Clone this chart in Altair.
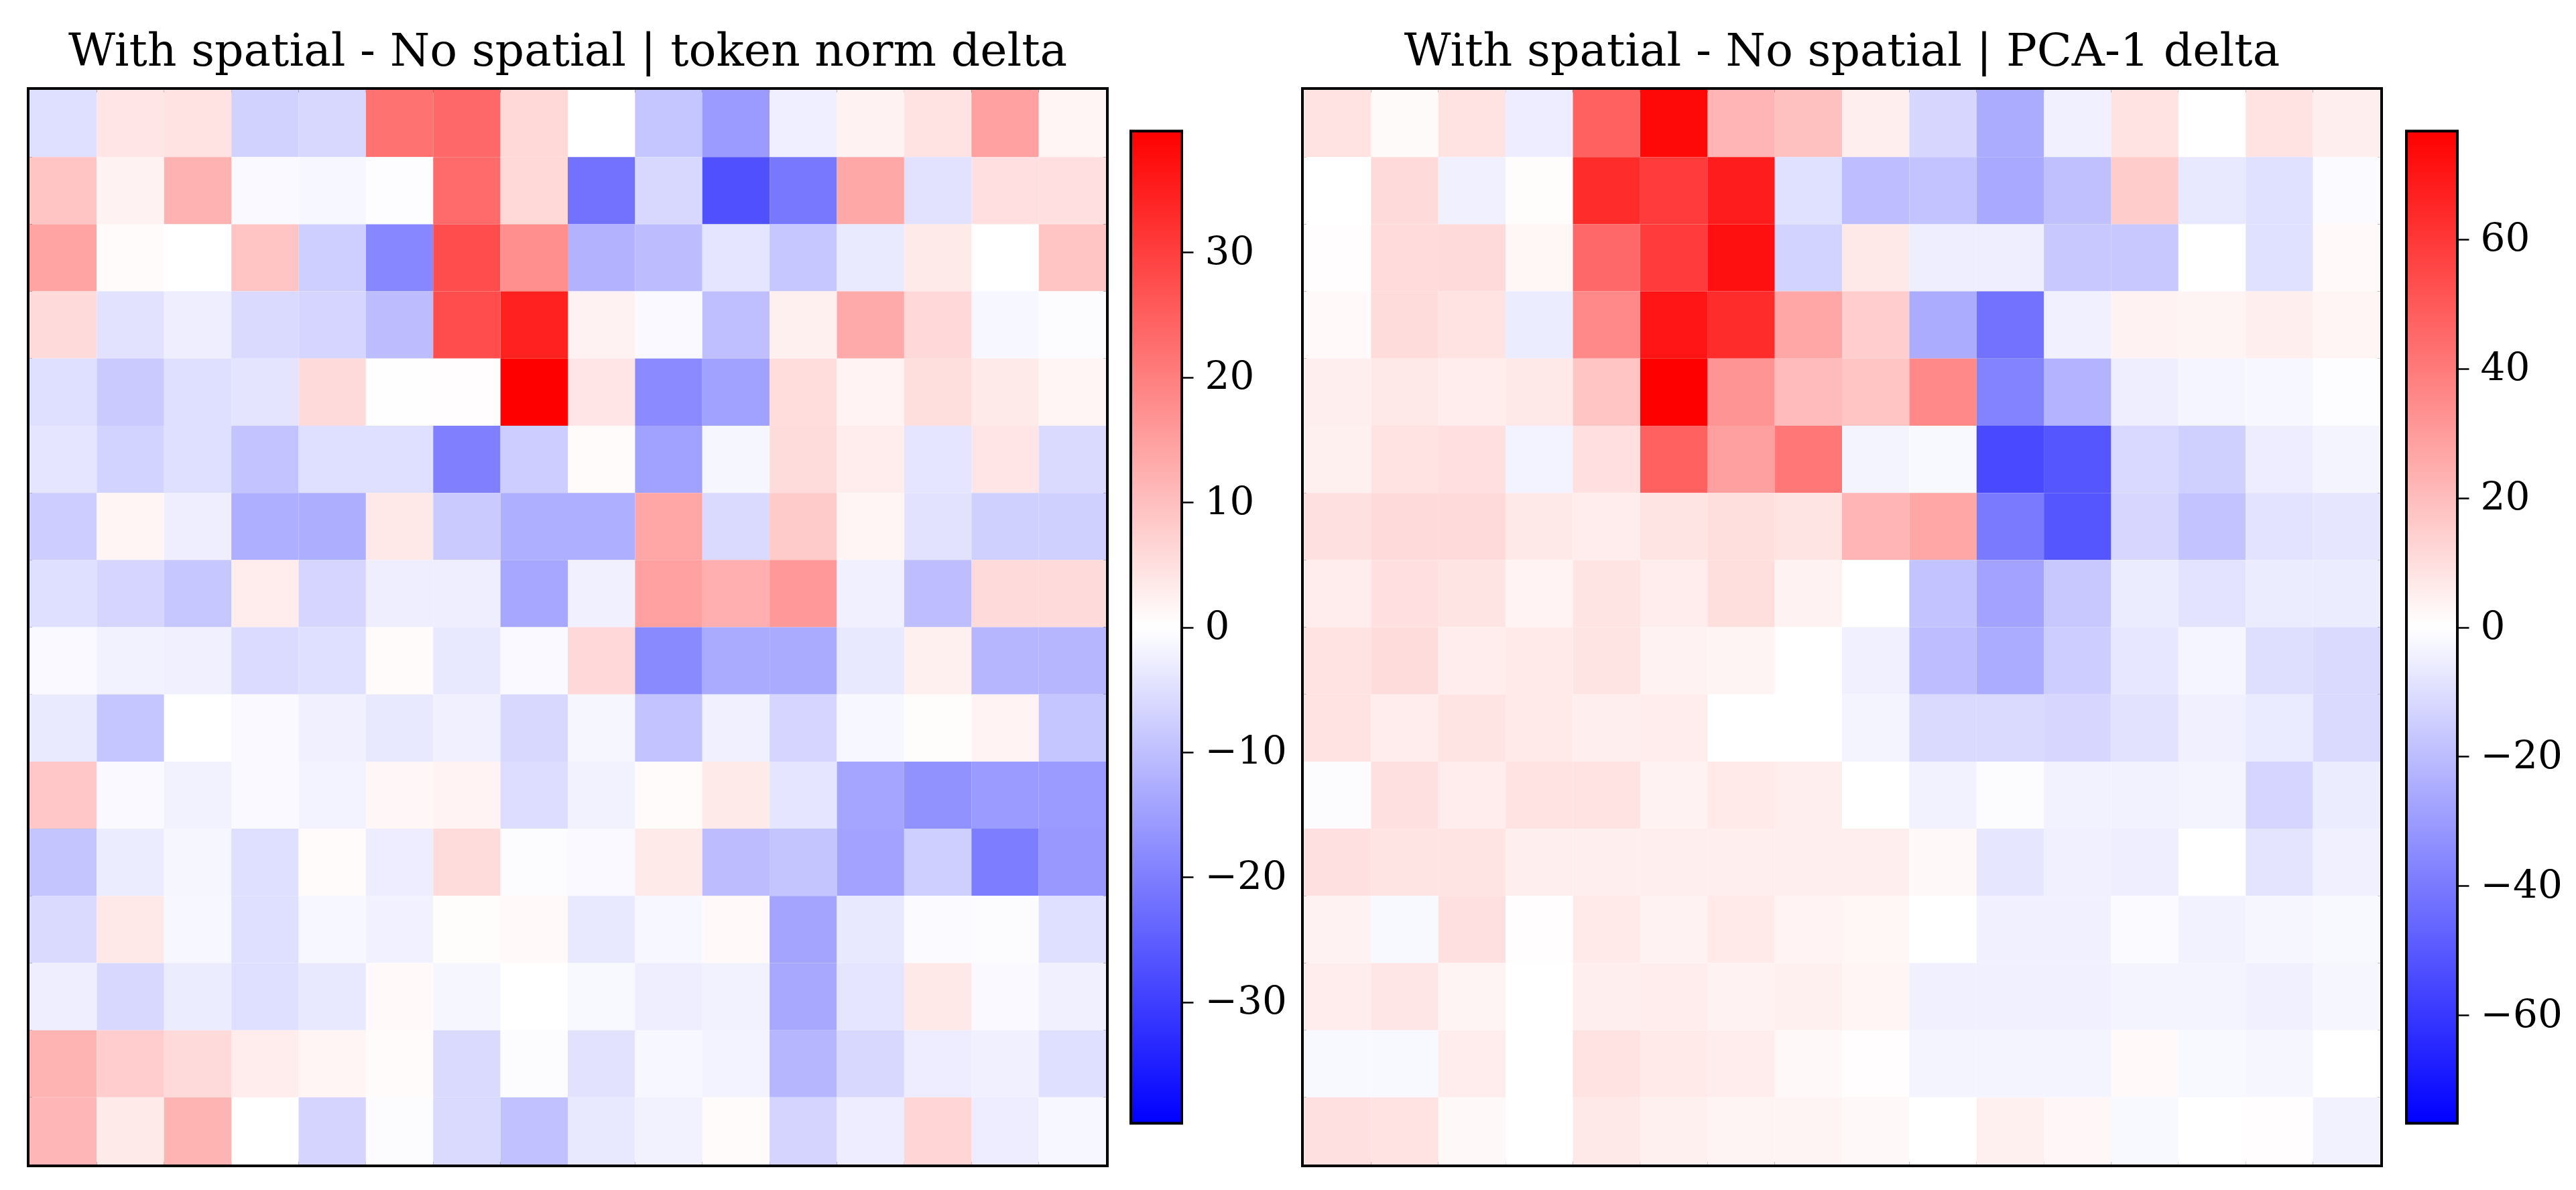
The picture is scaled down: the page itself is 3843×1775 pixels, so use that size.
import altair as alt
import pandas as pd

# ---------------- data (16 x 16 patch grids, row 0 = top) ----------------
ROWS = list(range(16))
COLS = list(range(16))

norm_delta = [
    [-5, 4, 4.5, -7, -6, 22, 23.5, 6, 0, -9, -15.5, -2.5, 2, 4.5, 14.7, 1.5],
    [9, 2, 12, -1, -1.2, -0.3, 23, 6, -22, -6, -27.3, -21, 13.5, -4.5, 5, 5],
    [14.3, 0.6, 0, 9, -7.5, -18.7, 27.8, 17.6, -12, -10.4, -4, -8.7, -3.2, 3.2, 0, 9],
    [5.8, -4.5, -2.6, -5.8, -6.5, -10.4, 27.8, 34.7, 2, -1, -10, 2.3, 13.3, 5.9, -1.2, -0.4],
    [-5, -8.2, -5, -4.2, 5.8, 0.2, 0.3, 39.7, 4, -18, -14.6, 5.3, 1.9, 5.2, 3.2, 1.5],
    [-4, -6.9, -5, -9.4, -5, -5, -19.8, -7.8, 0.7, -14.6, -1.4, 5.5, 2.9, -4, 4, -5.8],
    [-7.8, 1.5, -2.6, -12.5, -12.6, 3.6, -8.2, -12.5, -12.5, 13.9, -5.8, 8.3, 1.5, -4.5, -7.3, -7.3],
    [-5, -6.5, -8.7, 2.9, -6.5, -2.6, -2.6, -13.7, -2.3, 14.6, 12.5, 15.9, -2.3, -10.2, 5.8, 5.8],
    [-1, -2, -2.4, -5.6, -5, 0.6, -3.6, -1, 5.9, -18.2, -13.2, -13.2, -3.6, 2.3, -11.3, -11.3],
    [-3.3, -9, 0, -1, -2.4, -3.6, -2.4, -6, -1.4, -9.4, -2.4, -6.5, -1.2, 0.5, 1.9, -9],
    [8.7, -1, -2, -1, -1.8, 1.2, 1.8, -5.3, -2, 0.6, 3.2, -4, -14, -17, -15.5, -15.5],
    [-9.2, -3, -1.4, -5, 0.6, -2.8, 5.5, -0.4, -1, 3.2, -10.4, -9.2, -14.3, -7.5, -20.2, -16],
    [-5.8, 3.6, -1.2, -5, -1.3, -2.2, 0.5, 0.9, -3.6, -1.2, 1, -14.2, -3.6, -0.7, -0.4, -5],
    [-2.6, -6, -3, -5, -3.6, 0.9, -1.4, 0, -1.1, -2.6, -2, -13.5, -4, 3.6, -1, -2.4],
    [11.7, 7.8, 5.8, 2.9, 1.5, 0.6, -5.8, -0.4, -4.5, -1.2, -1.8, -11.3, -6, -2.8, -2.4, -5],
    [11.3, 3.2, 11.7, 0, -6.7, -0.4, -5.8, -9.6, -3.6, -2, 0.6, -6.7, -2.8, 6.6, -2.8, -1.2],
]

pca_delta = [
    [8.7, 1.5, 8.7, -5.4, 47.7, 74.3, 22.3, 19, 5.1, -12.3, -25, -4.5, 8.7, 0, 8.7, 5.1],
    [0, 11.1, -4.5, 1, 63.5, 59, 68.3, -9.3, -20, -18, -25.9, -19, 15.3, -7, -9.3, -1.5],
    [0.6, 10.8, 11, 2.7, 45.4, 59, 71.9, -13.2, 7, -5, -5, -16.5, -16.5, 0, -9.3, 1.8],
    [1.8, 10.4, 8.7, -5.7, 35.8, 70.5, 63.5, 26.8, 15, -25, -42.3, -4.5, 4, 3.3, 5, 3],
    [5.1, 7, 5.7, 7, 17.4, 76.7, 32.3, 20.5, 17.7, 35.8, -37.3, -22.9, -5.1, -3, -2.4, -0.6],
    [4.5, 8.7, 9.6, -3.6, 9.6, 47.7, 28.6, 40.8, -3.3, -2.1, -54.6, -50.8, -11.4, -14.1, -5.4, -3.3],
    [9.3, 11, 11, 7, 5.7, 8.1, 9.9, 8.1, 22.3, 26.8, -40, -50.8, -12.3, -18, -8.4, -7.5],
    [5.4, 9.6, 8.1, 3.6, 8.1, 5.4, 9.9, 3.9, 0, -18, -27.6, -16.5, -5.7, -8.4, -5.7, -5.7],
    [8.4, 10.5, 5.4, 6.6, 8.1, 3.9, 3.3, 0, -4.5, -20, -25.3, -15, -7.2, -3, -10, -11],
    [8.4, 5.7, 8, 6.6, 5, 5.4, 0, 0, -3.3, -11, -11, -12.3, -8.7, -4.5, -6, -11],
    [-1, 9.3, 5.4, 8.4, 8.4, 3.9, 6.6, 5, 0, -4, -1, -4, -4, -3.3, -12.6, -5.7],
    [9.3, 8.1, 8.1, 5, 5, 5, 5, 5, 5, 2, -7.5, -4.5, -5, 0, -8, -4.5],
    [3.9, -2, 9.3, 0.5, 6.6, 3.9, 6.6, 3.5, 2.7, 0, -4.5, -4.5, -1.2, -3.9, -2.7, -2.1],
    [5.7, 7.5, 3.3, 0, 5, 5.4, 3.9, 4.5, 3, -4.5, -4.5, -4.5, -3.3, -3.3, -4.5, -2.7],
    [-2, -2, 5.7, 0, 8.4, 6.6, 5.7, 2, 0.5, -3.3, -3.3, -3.3, 1.8, -2.1, -2.7, 0],
    [9.3, 8.7, 2.1, 0, 7, 4.5, 3.3, 3.3, 2, 0, 4.5, 2.4, -2, 0, 0.5, -3.9],
]

norm_limit = 39.7
pca_limit = 76.7
norm_ticks = [-30, -20, -10, 0, 10, 20, 30]
pca_ticks = [-60, -40, -20, 0, 20, 40, 60]
norm_title = "With spatial - No spatial | token norm delta"
pca_title = "With spatial - No spatial | PCA-1 delta"

# ---------------- styling ----------------
FONT = "DejaVu Serif"
PLOT_W = 1606
PLOT_H = 1603
CBAR_W = 76
CBAR_FRAC = 1480 / 1603
TITLE_SIZE = 68
LABEL_SIZE = 58


def long_form(mat):
    return pd.DataFrame(
        [{"row": r, "col": c, "value": mat[r][c]} for r in ROWS for c in COLS]
    )


def title_params(text):
    return alt.TitleParams(
        text, font=FONT, fontSize=TITLE_SIZE, fontWeight="normal",
        color="black", offset=22, anchor="middle", frame="group",
    )


def heatmap(mat, lim, title):
    return alt.Chart(long_form(mat)).mark_rect().encode(
        x=alt.X("col:O", axis=None, scale=alt.Scale(paddingInner=0, paddingOuter=0)),
        y=alt.Y("row:O", axis=None, scale=alt.Scale(paddingInner=0, paddingOuter=0)),
        color=alt.Color(
            "value:Q",
            scale=alt.Scale(domain=[-lim, 0, lim],
                            range=["#0000ff", "#ffffff", "#ff0000"],
                            interpolate="rgb"),
            legend=None,
        ),
    ).properties(
        width=PLOT_W, height=PLOT_H, title=title_params(title),
        view=alt.ViewBackground(stroke="black", strokeWidth=8),
    )


def colorbar(lim, ticks):
    df = pd.DataFrame({"lo": [-lim], "hi": [lim]})
    ext = lim / CBAR_FRAC
    grad = alt.Gradient(
        gradient="linear",
        stops=[alt.GradientStop(color="#0000ff", offset=0),
               alt.GradientStop(color="#ffffff", offset=0.5),
               alt.GradientStop(color="#ff0000", offset=1)],
        x1=0, x2=0, y1=1, y2=0,
    )
    return alt.Chart(df).mark_rect(fill=grad, stroke="black", strokeWidth=4).encode(
        y=alt.Y("lo:Q",
                scale=alt.Scale(domain=[-ext, ext], nice=False, zero=False),
                axis=alt.Axis(orient="right", values=ticks, title=None, domain=False,
                              grid=False, tickSize=17, tickWidth=2.5, tickColor="black",
                              labelFont=FONT, labelFontSize=LABEL_SIZE,
                              labelColor="black", labelPadding=17, format="d")),
        y2="hi:Q",
    ).properties(width=CBAR_W, height=PLOT_H, title=title_params(" "))


left = alt.hconcat(heatmap(norm_delta, norm_limit, norm_title),
                   colorbar(norm_limit, norm_ticks), spacing=31)
right = alt.hconcat(heatmap(pca_delta, pca_limit, pca_title),
                    colorbar(pca_limit, pca_ticks), spacing=33)

chart = alt.hconcat(left, right, spacing=21).resolve_scale(
    color="independent"
).properties(
    padding={"left": 40, "top": 40, "right": 0, "bottom": 0},
    background="white",
).configure_view(strokeWidth=0)

chart.save("out.html", embed_options={"renderer": "svg", "actions": False})
